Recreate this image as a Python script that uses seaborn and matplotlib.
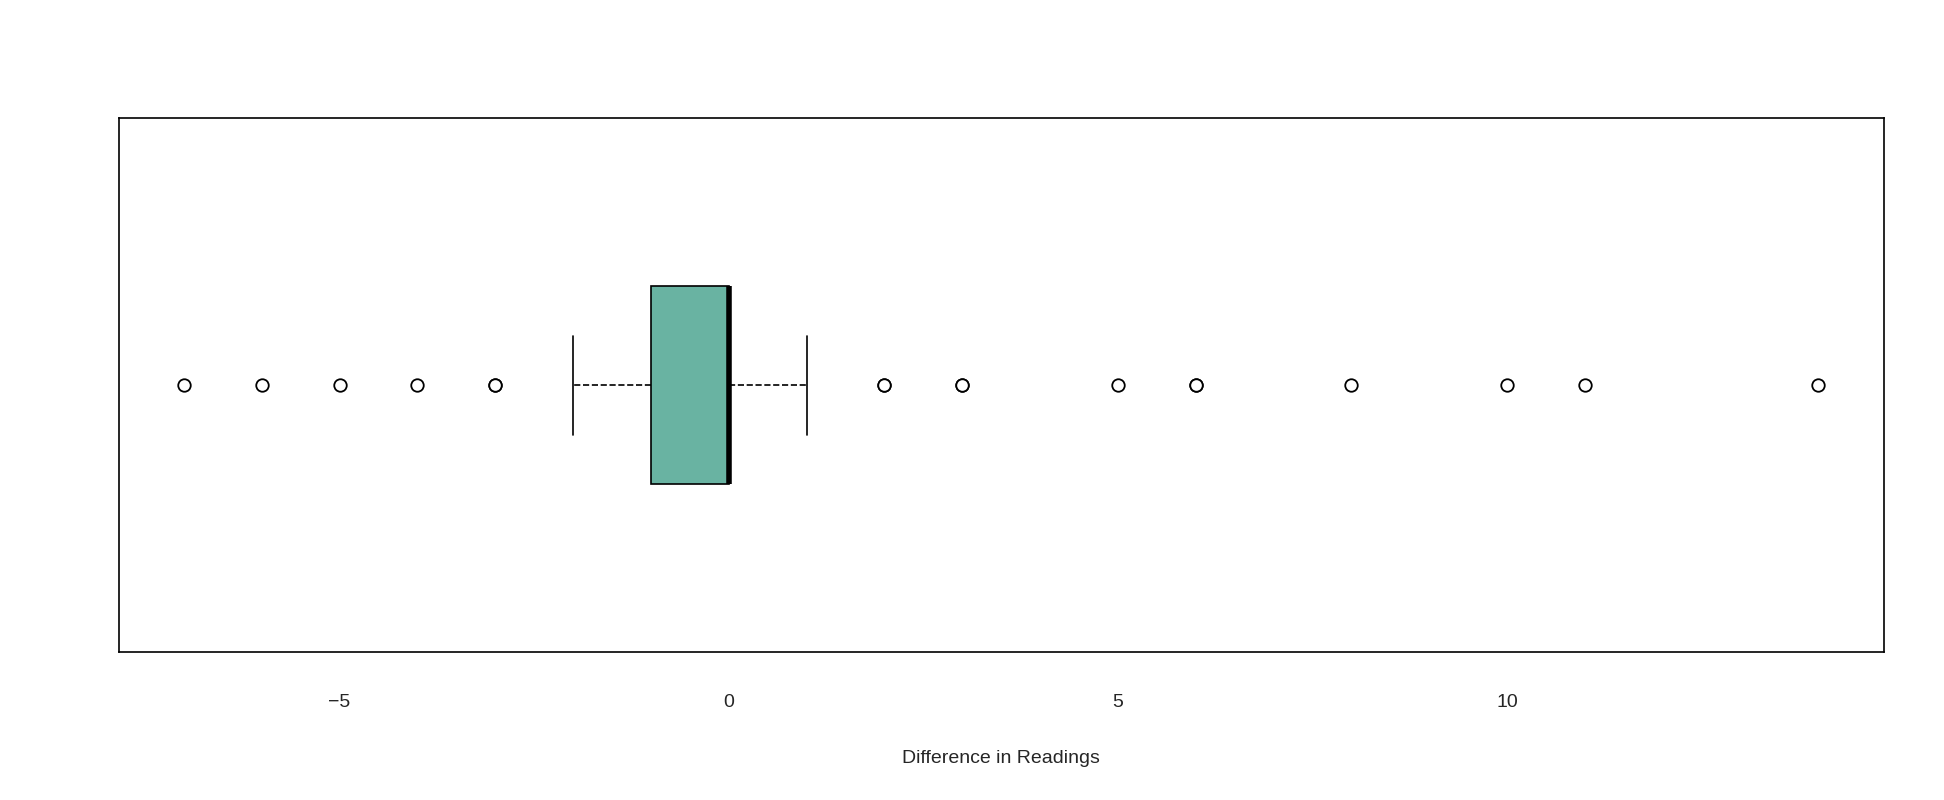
import matplotlib
matplotlib.use("Agg")
import matplotlib.pyplot as plt
import seaborn as sns
import numpy as np

# counts of each observed difference value
values = [-7, -6, -5, -4, -3, -2, -1, 0, 1, 2, 3, 5, 6, 8, 10, 11, 14]
counts = [1, 1, 1, 1, 2, 5, 30, 40, 10, 2, 2, 1, 2, 1, 1, 1, 1]
diffs = np.repeat(values, counts)

sns.set_style("white")
plt.rcParams["font.family"] = ["Liberation Sans", "DejaVu Sans"]

fig = plt.figure(figsize=(19.44, 8), dpi=100)
ax = fig.add_axes([0.061, 0.185, 0.908, 0.667])

sns.boxplot(x=diffs, ax=ax, orient="h", width=0.8, color="#69b3a2",
            saturation=1, whis=1.5, linecolor="black", linewidth=1.2,
            medianprops=dict(color="black", linewidth=4),
            whiskerprops=dict(linestyle="--", color="black"),
            capprops=dict(linestyle="-", color="black"),
            flierprops=dict(marker="o", markersize=9, markerfacecolor="white",
                            markeredgecolor="black", markeredgewidth=1.3))

# R-style caps: half the box width
for line in ax.lines:
    xd, yd = line.get_xdata(), line.get_ydata()
    if len(xd) == 2 and xd[0] == xd[1] and abs(yd[1] - yd[0]) < 0.45 and line.get_linestyle() == "-" and line.get_linewidth() < 3:
        line.set_ydata([-0.2, 0.2])

ax.set_xlim(-7.84, 14.84)
ax.set_ylim(1.08, -1.08)
ax.set_yticks([])
ax.set_xticks([-5, 0, 5, 10])
ax.tick_params(axis="x", length=0, pad=30, labelsize=14)
ax.set_xlabel("Difference in Readings", fontsize=14, labelpad=28)
for s in ax.spines.values():
    s.set_color("black")
    s.set_linewidth(1.2)

fig.savefig("out.png", dpi=100, facecolor="white")
